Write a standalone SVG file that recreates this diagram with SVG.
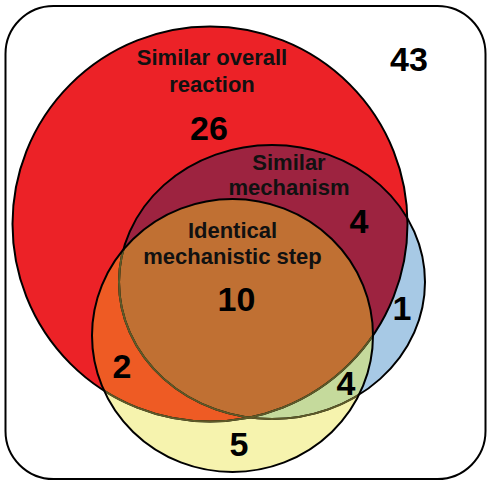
<svg xmlns="http://www.w3.org/2000/svg" width="492" height="486" viewBox="0 0 492 486">
<defs>
<style>
.lbl{font-family:"Liberation Sans",Arial,sans-serif;font-weight:bold;font-size:22px;fill:#111;text-anchor:middle}
.num{font-family:"Liberation Sans",Arial,sans-serif;font-weight:bold;font-size:34px;fill:#000;text-anchor:middle}
.ol{fill:none;stroke:#000;stroke-width:2}
.olv{fill:none;stroke:#5e5a28;stroke-width:2}
</style>
<circle id="shpR" cx="210" cy="224" r="197.5"/>
<ellipse id="shpB" cx="272" cy="282" rx="153" ry="137"/>
<ellipse id="shpY" cx="232.5" cy="335.5" rx="140.5" ry="136.5"/>
<clipPath id="cR"><use href="#shpR"/></clipPath>
<clipPath id="cB"><use href="#shpB"/></clipPath>
<clipPath id="cY"><use href="#shpY"/></clipPath>
</defs>
<rect x="5.5" y="6" width="480" height="473" rx="48" ry="48" fill="#fff" stroke="#000" stroke-width="2"/>
<g id="reaction">
<use href="#shpR" fill="#ec2227"/>
</g>
<g id="mechanism">
<use href="#shpB" fill="#a7c9e5"/>
<g clip-path="url(#cR)"><use href="#shpB" fill="#9d2340"/></g>
</g>
<g id="step">
<use href="#shpY" fill="#f6f3ae"/>
<g clip-path="url(#cY)">
<use href="#shpR" fill="#ee5b24"/>
<use href="#shpB" fill="#c5da9c"/>
<g clip-path="url(#cR)"><use href="#shpB" fill="#c07033"/></g>
</g>
</g>
<g id="outlines">
<use href="#shpR" class="ol"/>
<use href="#shpB" class="ol"/>
<g clip-path="url(#cY)">
<use href="#shpR" class="olv"/>
<use href="#shpB" class="olv"/>
</g>
<use href="#shpY" class="ol"/>
</g>
<g id="labels">
<text class="lbl" x="212" y="65">Similar overall</text>
<text class="lbl" x="212" y="92">reaction</text>
<text class="lbl" x="289" y="170">Similar</text>
<text class="lbl" x="289" y="195">mechanism</text>
<text class="lbl" x="232.5" y="238">Identical</text>
<text class="lbl" x="232.5" y="264">mechanistic step</text>
<text class="num" x="409" y="71">43</text>
<text class="num" x="209" y="140">26</text>
<text class="num" x="359" y="233">4</text>
<text class="num" x="236.5" y="311">10</text>
<text class="num" x="402" y="320">1</text>
<text class="num" x="122" y="378">2</text>
<text class="num" x="346" y="395">4</text>
<text class="num" x="239" y="456">5</text>
</g>
</svg>
